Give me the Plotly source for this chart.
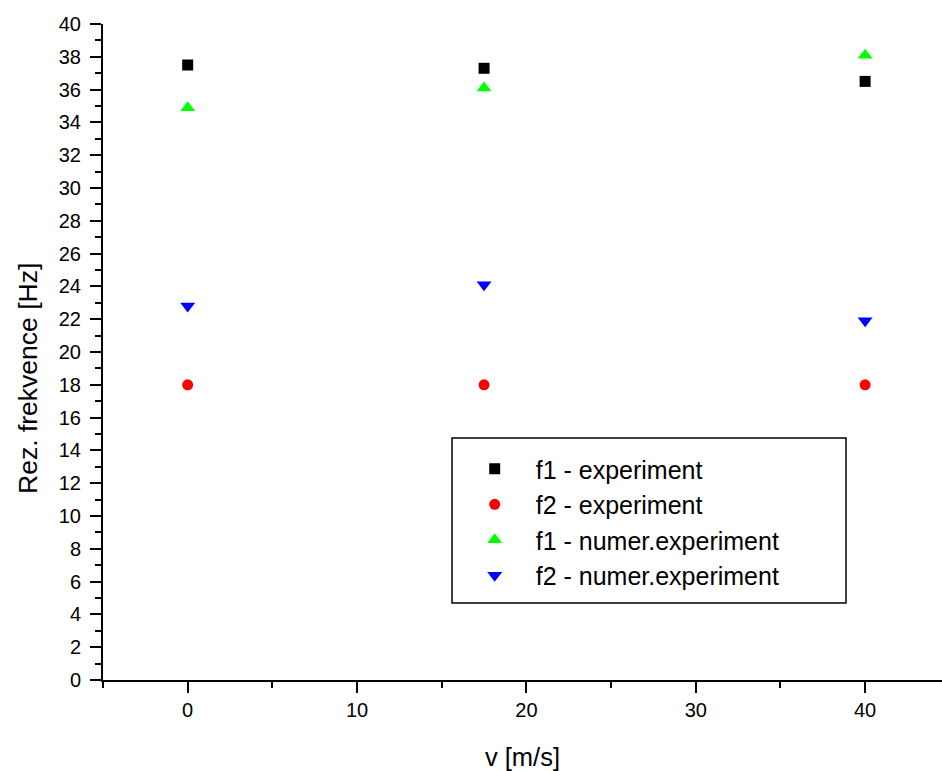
import plotly.graph_objects as go

v = [0, 17.5, 40]
f1_exp = [37.5, 37.3, 36.5]
f2_exp = [18.0, 18.0, 18.0]
f1_num = [34.9, 36.1, 38.1]
f2_num = [22.8, 24.1, 21.9]

names = ["f1 - experiment", "f2 - experiment", "f1 - numer.experiment", "f2 - numer.experiment"]
series = [f1_exp, f2_exp, f1_num, f2_num]
symbols = ["square", "circle", "triangle-up", "triangle-down"]
colors = ["#000000", "#ff0000", "#00ff00", "#0000ff"]
sizes = [11, 11, 13, 13]

y_ticks = list(range(0, 41, 2))
x_ticks = [0, 10, 20, 30, 40]

fig = go.Figure()
for n, s, sym, c, sz in zip(names, series, symbols, colors, sizes):
    fig.add_trace(go.Scatter(x=v, y=s, mode="markers", name=n,
                             marker=dict(symbol=sym, color=c, size=sz, line=dict(width=0))))

font = "Arial, Liberation Sans, Helvetica, sans-serif"
fig.update_layout(
    width=942, height=771,
    margin=dict(l=103, r=0, t=24, b=91),
    paper_bgcolor="white", plot_bgcolor="white",
    font=dict(family=font, color="black", size=20),
    showlegend=True,
    legend=dict(x=0.418, y=0.3566, xanchor="left", yanchor="top",
                borderwidth=0, bgcolor="rgba(0,0,0,0)",
                font=dict(size=25, family=font), itemwidth=72,
                tracegroupgap=0),
    shapes=[dict(type="rect", xref="paper", yref="paper",
                 x0=0.416, x1=0.8856, y0=0.1174, y1=0.369,
                 line=dict(color="black", width=1.5), fillcolor="white", layer="below")],
    annotations=[dict(text="Rez. frekvence [Hz]", textangle=-90, showarrow=False,
                      xref="paper", yref="paper", x=-0.0894, y=0.4604,
                      xanchor="center", yanchor="middle",
                      font=dict(size=26.5, family=font, color="black"))],
    xaxis=dict(range=[-5, 44.54], tickvals=x_ticks, showgrid=False, zeroline=False,
               showline=True, linecolor="black", linewidth=2,
               ticks="outside", ticklen=11, tickwidth=2, tickcolor="black",
               tickfont=dict(size=20),
               minor=dict(tickvals=[-5, 5, 15, 25, 35], ticks="outside", ticklen=6,
                          tickwidth=2, tickcolor="black", showgrid=False),
               title=dict(text="v [m/s]", font=dict(size=25.5), standoff=28)),
    yaxis=dict(range=[0, 40], tickvals=y_ticks, showgrid=False, zeroline=False,
               showline=True, linecolor="black", linewidth=2,
               ticks="outside", ticklen=11, tickwidth=2, tickcolor="black",
               tickfont=dict(size=20), ticklabelstandoff=5,
               minor=dict(tickvals=list(range(1, 40, 2)), ticks="outside", ticklen=6,
                          tickwidth=2, tickcolor="black", showgrid=False)),
)

fig.write_html("out.html")
